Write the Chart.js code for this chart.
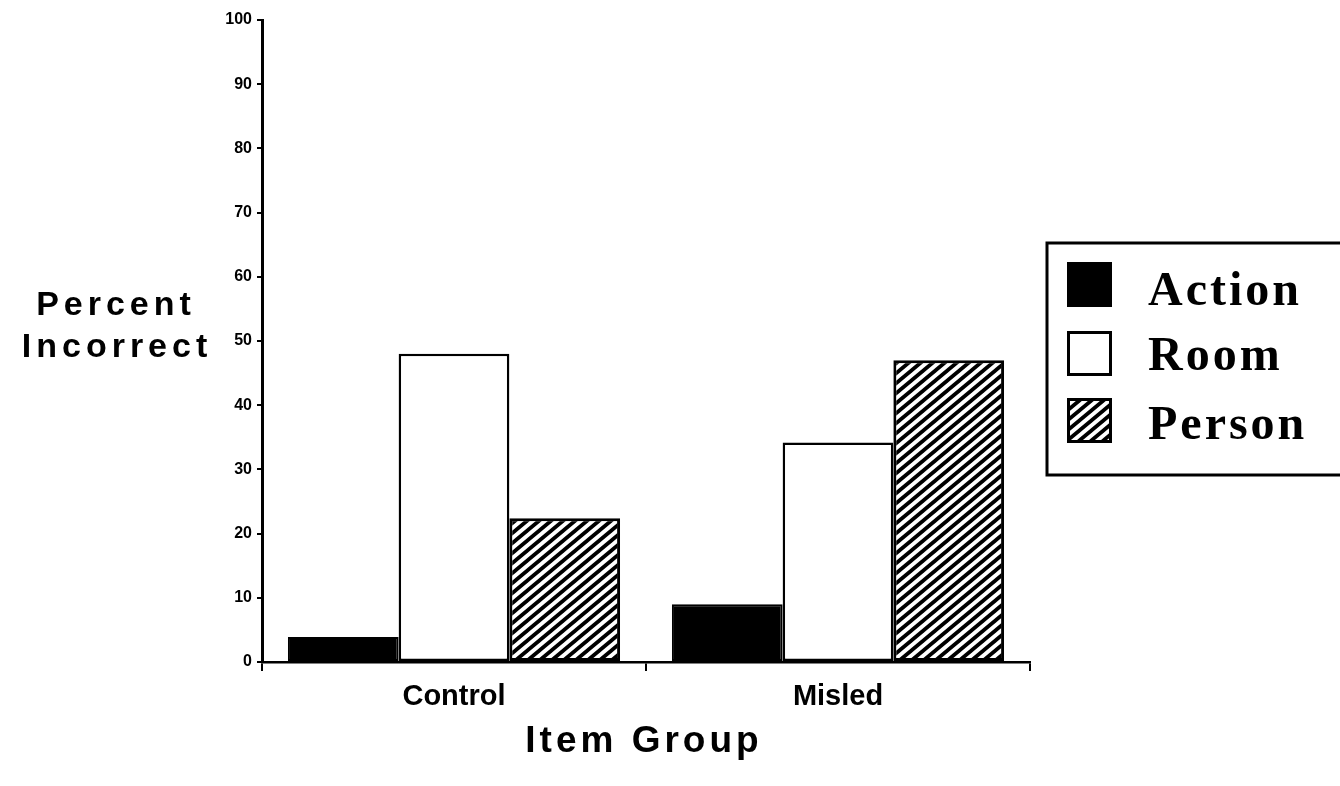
<!DOCTYPE html>
<html><head><meta charset="utf-8">
<script src="https://cdn.jsdelivr.net/npm/chart.js@4.4.1/dist/chart.umd.min.js"></script>
<style>html,body{margin:0;padding:0;background:#fff;overflow:hidden}canvas{display:block}</style>
</head><body>
<canvas id="c" width="1340" height="786"></canvas>
<script>
// ---- data ----
const categories = ['Control', 'Misled'];
const seriesNames = ['Action', 'Room', 'Person'];
const actionValues = [3.9, 9.0];
const roomValues = [48.0, 34.2];
const personValues = [22.4, 47.0];
const yMin = 0, yMax = 100, yStep = 10;
const yAxisTitle = ['Percent', 'Incorrect'];
const xAxisTitle = 'Item Group';

// ---- hatch pattern ----
function makeHatch() {
  const w = 12, h = 10;
  const c = document.createElement('canvas');
  c.width = w; c.height = h;
  const g = c.getContext('2d');
  g.fillStyle = '#fff'; g.fillRect(0, 0, w, h);
  g.strokeStyle = '#000'; g.lineWidth = 3.8;
  g.beginPath();
  for (const k of [0, 1, 2]) {
    g.moveTo(k * w + w, -h);
    g.lineTo(k * w - 2 * w, 2 * h);
  }
  g.stroke();
  return document.getElementById('c').getContext('2d').createPattern(c, 'repeat');
}
const hatch = makeHatch();

const fills = ['#000000', '#ffffff', hatch];
const borders = [2, 2.5, 3];

const titlesAndLegend = {
  id: 'titlesAndLegend',
  afterDraw(chart) {
    const ctx = chart.ctx;
    const ca = chart.chartArea;
    ctx.save();
    ctx.fillStyle = '#000';
    // y axis title (horizontal, two lines)
    ctx.font = 'bold 34px "Liberation Sans", Arial, sans-serif';
    ctx.letterSpacing = '5px';
    ctx.textAlign = 'center';
    ctx.textBaseline = 'alphabetic';
    ctx.fillText(yAxisTitle[0], 116, 315);
    ctx.fillText(yAxisTitle[1], 117, 357);
    // x axis title
    ctx.font = 'bold 37px "Liberation Sans", Arial, sans-serif';
    ctx.letterSpacing = '4px';
    ctx.fillText(xAxisTitle, (ca.left + ca.right) / 2 - 2, 752);
    // legend
    ctx.letterSpacing = '0px';
    ctx.lineWidth = 3;
    ctx.strokeStyle = '#000';
    ctx.strokeRect(1047, 243, 320, 232);
    const sw = [262, 331, 398];
    const base = [305, 370, 439];
    chart.data.datasets.forEach((ds, i) => {
      ctx.fillStyle = ds.backgroundColor;
      ctx.fillRect(1067, sw[i], 45, 45);
      ctx.lineWidth = 3;
      ctx.strokeStyle = '#000';
      ctx.strokeRect(1068.5, sw[i] + 1.5, 42, 42);
      ctx.fillStyle = '#000';
      ctx.font = 'bold 48px "Liberation Serif", "Times New Roman", serif';
      ctx.letterSpacing = '3px';
      ctx.textAlign = 'left';
      ctx.fillText(ds.label, 1148, base[i]);
    });
    ctx.restore();
  }
};

const valueSets = [actionValues, roomValues, personValues];

new Chart(document.getElementById('c'), {
  type: 'bar',
  data: {
    labels: categories,
    datasets: seriesNames.map((n, i) => ({
      label: n,
      data: valueSets[i],
      backgroundColor: fills[i],
      borderColor: '#000',
      borderWidth: borders[i],
      borderSkipped: false,
      barPercentage: 1.0,
      categoryPercentage: 0.865
    }))
  },
  options: {
    responsive: false,
    animation: false,
    devicePixelRatio: 1,
    layout: { padding: { left: 0, right: 310, top: 20, bottom: 25 } },
    plugins: { legend: { display: false }, tooltip: { enabled: false } },
    scales: {
      x: {
        afterFit: s => { s.height = 99; },
        grid: { display: true, drawOnChartArea: false, drawTicks: true, tickLength: 9, color: '#000', lineWidth: 2, offset: true },
        border: { display: true, color: '#000', width: 2.5 },
        ticks: { color: '#000', padding: 9, font: { family: '"Liberation Sans", Arial, sans-serif', size: 29, weight: 'bold' } }
      },
      y: {
        min: yMin, max: yMax,
        afterFit: s => { s.width = 262; },
        grid: { display: true, drawOnChartArea: false, drawTicks: true, tickLength: 5, color: '#000', lineWidth: 2 },
        border: { display: true, color: '#000', width: 3 },
        ticks: { stepSize: yStep, color: '#000', padding: 5, font: { family: '"Liberation Sans", Arial, sans-serif', size: 16, weight: 'bold' } }
      }
    }
  },
  plugins: [titlesAndLegend]
});
</script>
</body></html>
